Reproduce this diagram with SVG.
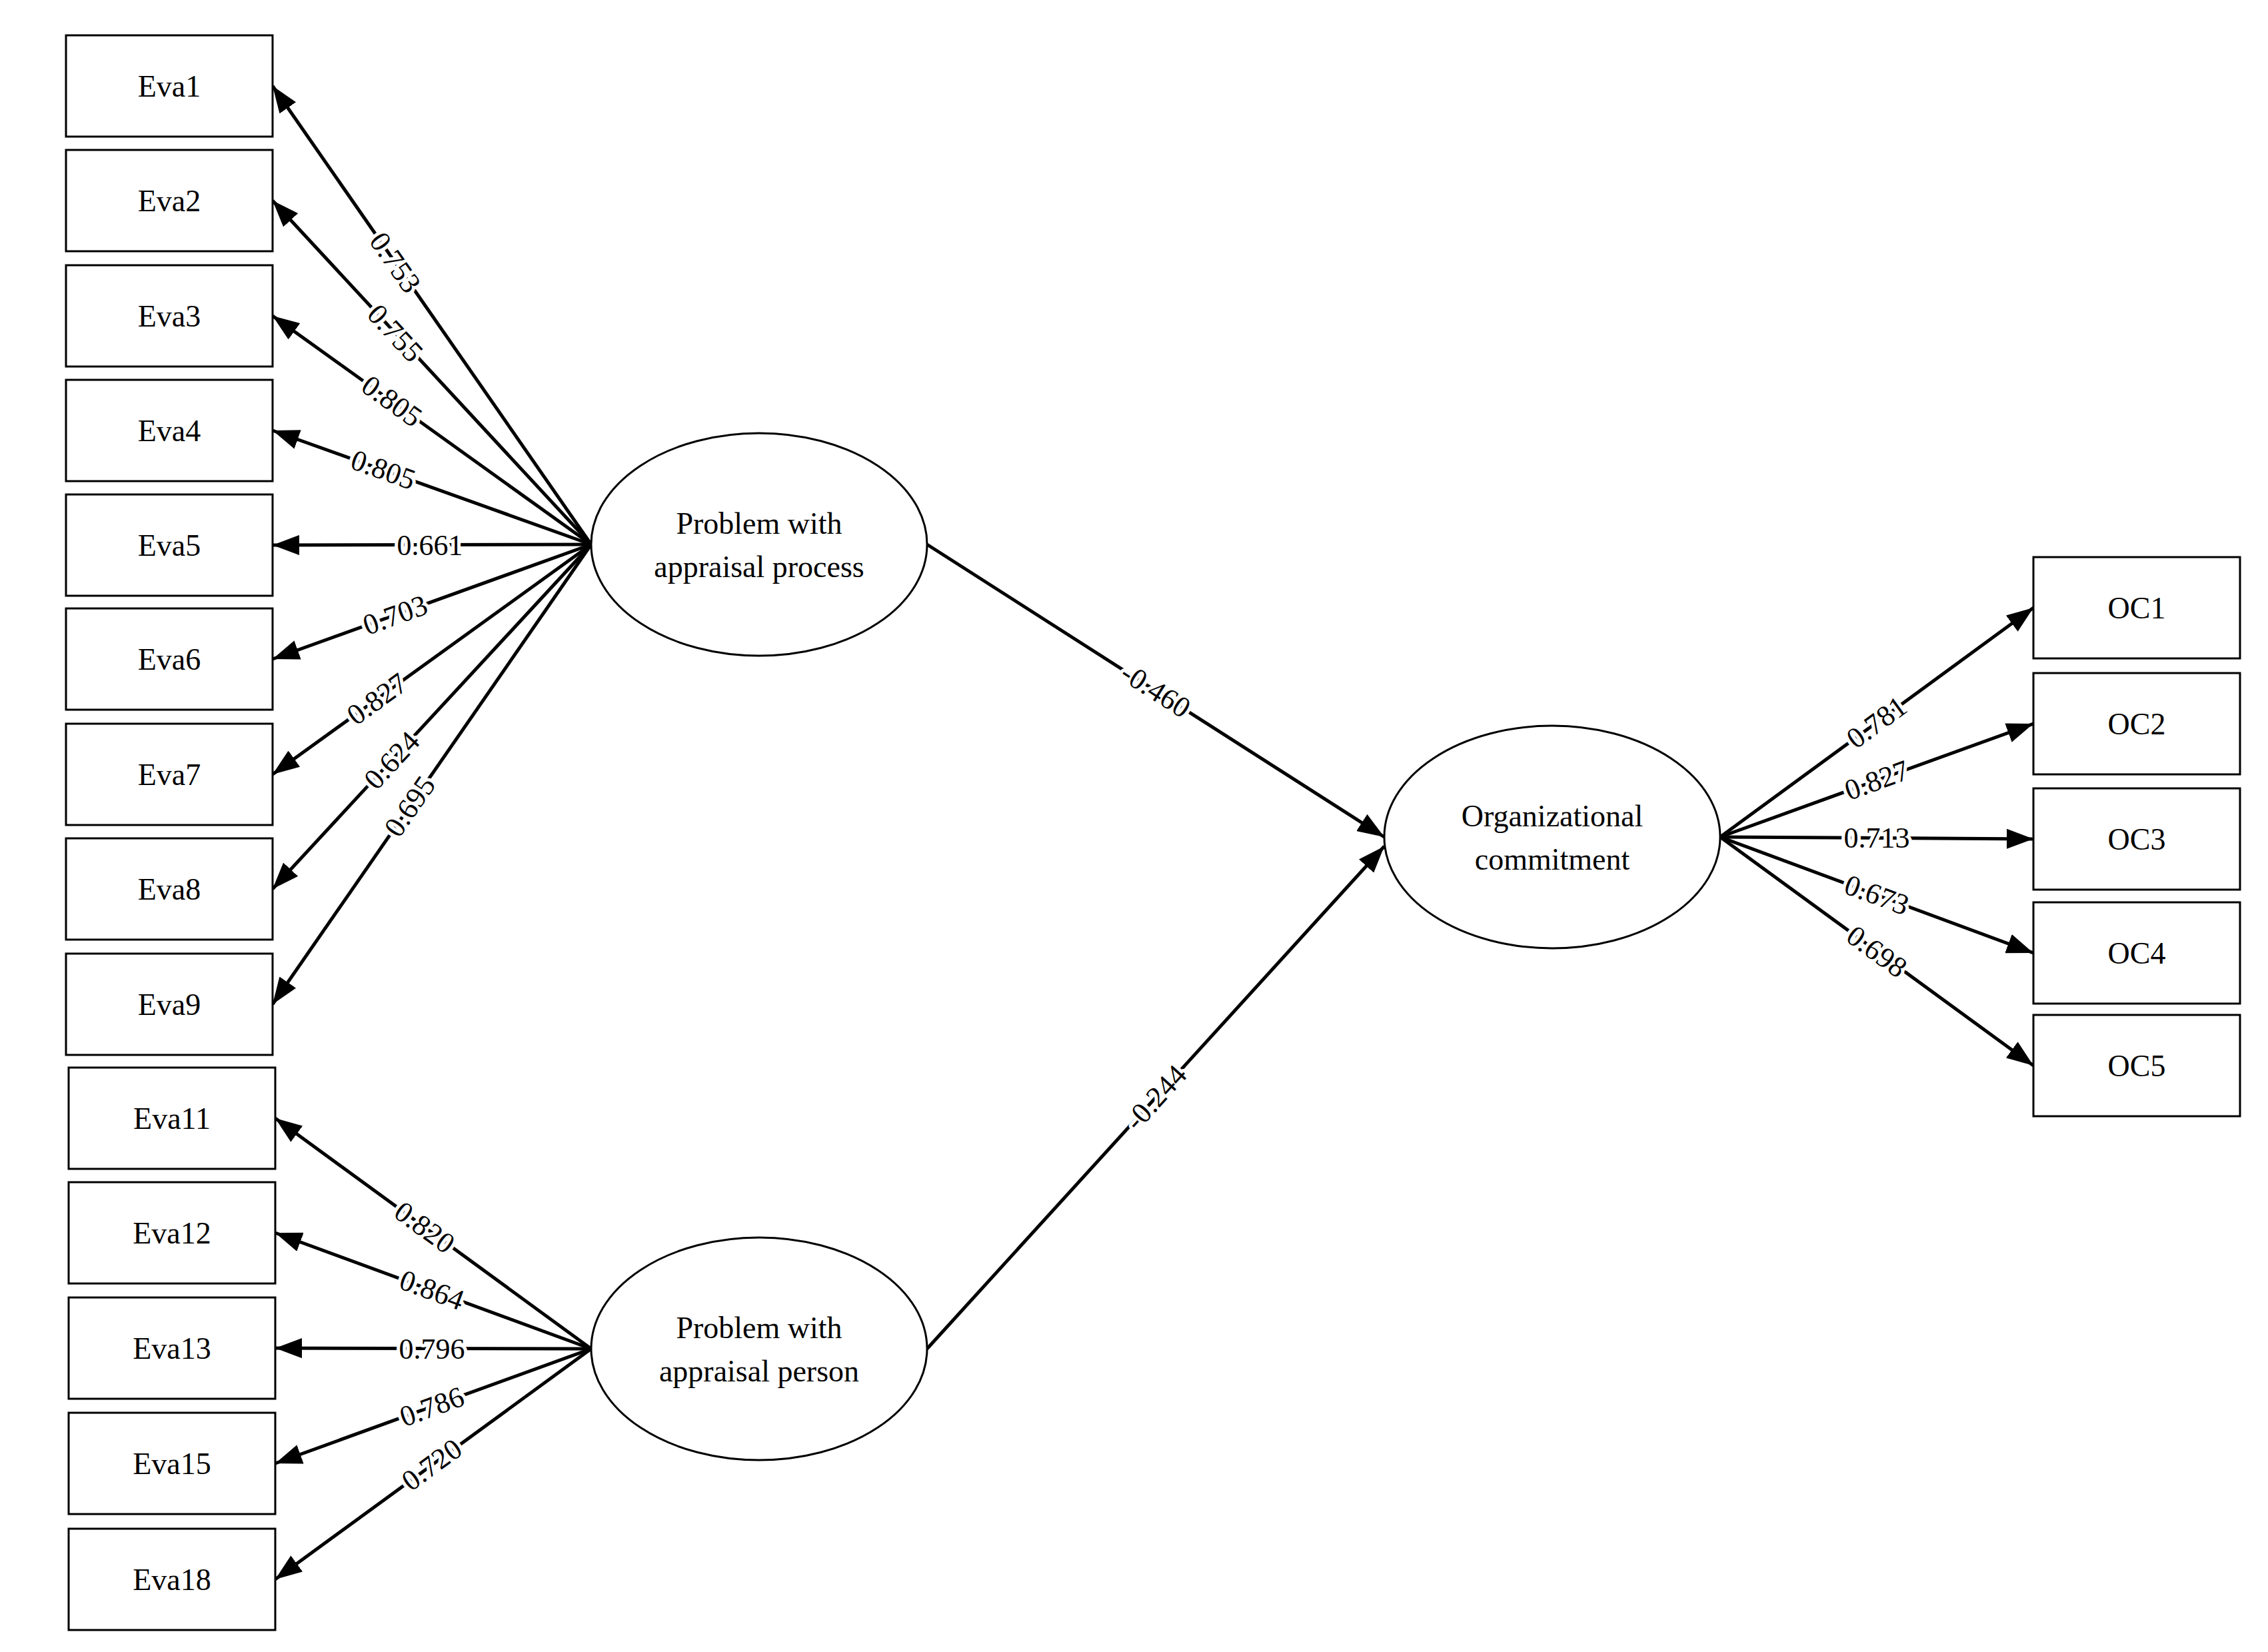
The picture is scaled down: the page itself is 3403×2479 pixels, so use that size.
<svg xmlns="http://www.w3.org/2000/svg" width="3403" height="2479" viewBox="0 0 3403 2479">
<style>
.box{fill:#fff;stroke:#000;stroke-width:3}
.ell{fill:#fff;stroke:#000;stroke-width:3}
.t{font-family:"Liberation Serif",serif;font-size:46px;text-anchor:middle;dominant-baseline:central;fill:#000}
.c line{stroke:#000;stroke-width:5;marker-end:url(#ah)}
.lb{font-family:"Liberation Serif",serif;font-size:44px;text-anchor:middle;dominant-baseline:central;fill:#000;stroke:#fff;stroke-width:10;paint-order:stroke;stroke-linejoin:round}
</style>
<defs><marker id="ah" markerUnits="userSpaceOnUse" markerWidth="40" markerHeight="30" refX="40" refY="15" orient="auto"><path d="M0,0L40,15L0,30z" fill="#000"/></marker></defs>
<rect width="3403" height="2479" fill="#fff"/>
<g id="connectors" class="c">
<line x1="887" y1="817" x2="409" y2="129"/>
<line x1="887" y1="817" x2="409" y2="301"/>
<line x1="887" y1="817" x2="409" y2="474"/>
<line x1="887" y1="817" x2="409" y2="646"/>
<line x1="887" y1="817" x2="409" y2="818"/>
<line x1="887" y1="817" x2="409" y2="989"/>
<line x1="887" y1="817" x2="409" y2="1162"/>
<line x1="887" y1="817" x2="409" y2="1334"/>
<line x1="887" y1="817" x2="409" y2="1507"/>
<line x1="887" y1="2024" x2="413" y2="1678"/>
<line x1="887" y1="2024" x2="413" y2="1850"/>
<line x1="887" y1="2024" x2="413" y2="2023"/>
<line x1="887" y1="2024" x2="413" y2="2196"/>
<line x1="887" y1="2024" x2="413" y2="2370"/>
<line x1="2581" y1="1256" x2="3051" y2="912"/>
<line x1="2581" y1="1256" x2="3051" y2="1086"/>
<line x1="2581" y1="1256" x2="3051" y2="1259"/>
<line x1="2581" y1="1256" x2="3051" y2="1430"/>
<line x1="2581" y1="1256" x2="3051" y2="1599"/>
<line x1="1391" y1="817" x2="2077" y2="1256"/>
<line x1="1391" y1="2024" x2="2077" y2="1270"/>
</g>
<g id="labels">
<text class="lb" transform="translate(593,394) rotate(55.2)">0.753</text>
<text class="lb" transform="translate(593,500) rotate(47.2)">0.755</text>
<text class="lb" transform="translate(588,602) rotate(35.7)">0.805</text>
<text class="lb" transform="translate(575,705) rotate(19.7)">0.805</text>
<text class="lb" transform="translate(645,818)">0.661</text>
<text class="lb" transform="translate(593,923) rotate(-19.8)">0.703</text>
<text class="lb" transform="translate(566,1049) rotate(-35.8)">0.827</text>
<text class="lb" transform="translate(588,1141) rotate(-47.2)">0.624</text>
<text class="lb" transform="translate(615,1210) rotate(-55.3)">0.695</text>
<text class="lb" transform="translate(637,1842) rotate(36.1)">0.820</text>
<text class="lb" transform="translate(648,1936) rotate(20.2)">0.864</text>
<text class="lb" transform="translate(648,2024)">0.796</text>
<text class="lb" transform="translate(648,2111) rotate(-19.9)">0.786</text>
<text class="lb" transform="translate(648,2198) rotate(-36.1)">0.720</text>
<text class="lb" transform="translate(2816,1084) rotate(-36.2)">0.781</text>
<text class="lb" transform="translate(2816,1171) rotate(-19.9)">0.827</text>
<text class="lb" transform="translate(2816,1257)">0.713</text>
<text class="lb" transform="translate(2816,1343) rotate(20.3)">0.673</text>
<text class="lb" transform="translate(2816,1428) rotate(36.1)">0.698</text>
<text class="lb" transform="translate(1734,1036) rotate(32.6)">-0.460</text>
<text class="lb" transform="translate(1734,1647) rotate(-47.7)">-0.244</text>
</g>
<g id="Eva1"><rect class="box" x="99" y="53" width="310" height="152"/><text class="t" x="254" y="129">Eva1</text></g>
<g id="Eva2"><rect class="box" x="99" y="225" width="310" height="152"/><text class="t" x="254" y="301">Eva2</text></g>
<g id="Eva3"><rect class="box" x="99" y="398" width="310" height="152"/><text class="t" x="254" y="474">Eva3</text></g>
<g id="Eva4"><rect class="box" x="99" y="570" width="310" height="152"/><text class="t" x="254" y="646">Eva4</text></g>
<g id="Eva5"><rect class="box" x="99" y="742" width="310" height="152"/><text class="t" x="254" y="818">Eva5</text></g>
<g id="Eva6"><rect class="box" x="99" y="913" width="310" height="152"/><text class="t" x="254" y="989">Eva6</text></g>
<g id="Eva7"><rect class="box" x="99" y="1086" width="310" height="152"/><text class="t" x="254" y="1162">Eva7</text></g>
<g id="Eva8"><rect class="box" x="99" y="1258" width="310" height="152"/><text class="t" x="254" y="1334">Eva8</text></g>
<g id="Eva9"><rect class="box" x="99" y="1431" width="310" height="152"/><text class="t" x="254" y="1507">Eva9</text></g>
<g id="Eva11"><rect class="box" x="103" y="1602" width="310" height="152"/><text class="t" x="258" y="1678">Eva11</text></g>
<g id="Eva12"><rect class="box" x="103" y="1774" width="310" height="152"/><text class="t" x="258" y="1850">Eva12</text></g>
<g id="Eva13"><rect class="box" x="103" y="1947" width="310" height="152"/><text class="t" x="258" y="2023">Eva13</text></g>
<g id="Eva15"><rect class="box" x="103" y="2120" width="310" height="152"/><text class="t" x="258" y="2196">Eva15</text></g>
<g id="Eva18"><rect class="box" x="103" y="2294" width="310" height="152"/><text class="t" x="258" y="2370">Eva18</text></g>
<g id="OC1"><rect class="box" x="3051" y="836" width="310" height="152"/><text class="t" x="3206" y="912">OC1</text></g>
<g id="OC2"><rect class="box" x="3051" y="1010" width="310" height="152"/><text class="t" x="3206" y="1086">OC2</text></g>
<g id="OC3"><rect class="box" x="3051" y="1183" width="310" height="152"/><text class="t" x="3206" y="1259">OC3</text></g>
<g id="OC4"><rect class="box" x="3051" y="1354" width="310" height="152"/><text class="t" x="3206" y="1430">OC4</text></g>
<g id="OC5"><rect class="box" x="3051" y="1523" width="310" height="152"/><text class="t" x="3206" y="1599">OC5</text></g>
<g id="process"><ellipse class="ell" cx="1139" cy="817" rx="252" ry="167"/><text class="t" x="1139" y="785">Problem with</text><text class="t" x="1139" y="850">appraisal process</text></g>
<g id="person"><ellipse class="ell" cx="1139" cy="2024" rx="252" ry="167"/><text class="t" x="1139" y="1992">Problem with</text><text class="t" x="1139" y="2057">appraisal person</text></g>
<g id="oc"><ellipse class="ell" cx="2329" cy="1256" rx="252" ry="167"/><text class="t" x="2329" y="1224">Organizational</text><text class="t" x="2329" y="1289">commitment</text></g>
</svg>
